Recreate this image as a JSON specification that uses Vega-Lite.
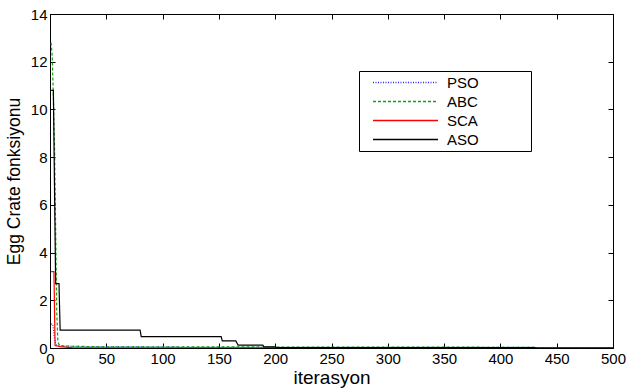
{
  "$schema": "https://vega.github.io/schema/vega-lite/v6.json",
  "width": 563,
  "height": 334,
  "autosize": {"type": "none"},
  "padding": {"left": 50, "top": 14, "right": 14, "bottom": 42},
  "background": "white",
  "config": {
    "font": "Liberation Sans",
    "view": {"stroke": "black", "strokeWidth": 1},
    "axis": {
      "grid": false,
      "domainColor": "black",
      "tickColor": "black",
      "labelColor": "black",
      "titleColor": "black",
      "labelFont": "Liberation Sans",
      "titleFont": "Liberation Sans",
      "labelFontSize": 15,
      "titleFontSize": 19,
      "titleFontWeight": "normal",
      "tickSize": -5,
      "labelFlush": false,
      "labelOverlap": false
    }
  },
  "data": {
    "values": [
      {"it": 1, "v": 1.0, "alg": "PSO"},
      {"it": 2.5, "v": 1.0, "alg": "PSO"},
      {"it": 4, "v": 0.4, "alg": "PSO"},
      {"it": 5, "v": 0.2, "alg": "PSO"},
      {"it": 6, "v": 0.1, "alg": "PSO"},
      {"it": 10, "v": 0.08, "alg": "PSO"},
      {"it": 30, "v": 0.06, "alg": "PSO"},
      {"it": 112, "v": 0.05, "alg": "PSO"},
      {"it": 115, "v": 0.03, "alg": "PSO"},
      {"it": 430, "v": 0.03, "alg": "PSO"},
      {"it": 432, "v": 0.0, "alg": "PSO"},
      {"it": 500, "v": 0.0, "alg": "PSO"},
      {"it": 1, "v": 12.8, "alg": "ABC"},
      {"it": 2, "v": 12.2, "alg": "ABC"},
      {"it": 3, "v": 10.5, "alg": "ABC"},
      {"it": 4, "v": 8.5, "alg": "ABC"},
      {"it": 5, "v": 5.0, "alg": "ABC"},
      {"it": 6, "v": 1.5, "alg": "ABC"},
      {"it": 7, "v": 0.25, "alg": "ABC"},
      {"it": 8, "v": 0.15, "alg": "ABC"},
      {"it": 12, "v": 0.08, "alg": "ABC"},
      {"it": 50, "v": 0.05, "alg": "ABC"},
      {"it": 430, "v": 0.03, "alg": "ABC"},
      {"it": 432, "v": 0.0, "alg": "ABC"},
      {"it": 500, "v": 0.0, "alg": "ABC"},
      {"it": 1, "v": 3.2, "alg": "SCA"},
      {"it": 3.5, "v": 3.2, "alg": "SCA"},
      {"it": 4.5, "v": 0.1, "alg": "SCA"},
      {"it": 10, "v": 0.05, "alg": "SCA"},
      {"it": 20, "v": 0.01, "alg": "SCA"},
      {"it": 500, "v": 0.005, "alg": "SCA"},
      {"it": 1, "v": 10.8, "alg": "ASO"},
      {"it": 3, "v": 10.8, "alg": "ASO"},
      {"it": 5, "v": 2.7, "alg": "ASO"},
      {"it": 8, "v": 2.7, "alg": "ASO"},
      {"it": 9, "v": 0.75, "alg": "ASO"},
      {"it": 80, "v": 0.75, "alg": "ASO"},
      {"it": 81, "v": 0.48, "alg": "ASO"},
      {"it": 152, "v": 0.48, "alg": "ASO"},
      {"it": 153, "v": 0.3, "alg": "ASO"},
      {"it": 165, "v": 0.3, "alg": "ASO"},
      {"it": 167, "v": 0.12, "alg": "ASO"},
      {"it": 189, "v": 0.12, "alg": "ASO"},
      {"it": 190, "v": 0.05, "alg": "ASO"},
      {"it": 200, "v": 0.05, "alg": "ASO"},
      {"it": 201, "v": 0.02, "alg": "ASO"},
      {"it": 430, "v": 0.02, "alg": "ASO"},
      {"it": 432, "v": 0.0, "alg": "ASO"},
      {"it": 500, "v": 0.0, "alg": "ASO"}
    ]
  },
  "layer": [
    {
      "mark": {"type": "line", "strokeWidth": 1.2, "clip": true},
      "encoding": {
        "x": {
          "field": "it", "type": "quantitative",
          "scale": {"domain": [0, 500], "nice": false},
          "axis": {"values": [0, 50, 100, 150, 200, 250, 300, 350, 400, 450, 500], "title": "iterasyon", "labelPadding": 8, "titlePadding": 2}
        },
        "y": {
          "field": "v", "type": "quantitative",
          "scale": {"domain": [0, 14], "nice": false},
          "axis": {"values": [0, 2, 4, 6, 8, 10, 12, 14], "title": "Egg Crate fonksiyonu", "titleFontSize": 17.5, "labelPadding": 8, "titlePadding": 7}
        },
        "color": {
          "field": "alg", "type": "nominal",
          "scale": {"domain": ["PSO", "ABC", "SCA", "ASO"], "range": ["#2b2bff", "#12a012", "#ff0000", "#000000"]},
          "legend": {
            "title": null, "orient": "none", "legendX": 309, "legendY": 57,
            "strokeColor": "black", "fillColor": "white", "padding": 2,
            "symbolType": "stroke", "symbolSize": 4225, "symbolStrokeWidth": 1.5,
            "clipHeight": 19, "rowPadding": 0, "symbolOffset": 11, "labelOffset": 8,
            "labelFontSize": 15, "labelFont": "Liberation Sans", "labelColor": "black",
            "labelExpr": "datum.label + '\u00a0\u00a0\u00a0\u00a0\u00a0\u00a0\u00a0\u00a0\u00a0\u00a0\u00a0\u00a0\u200b'"
          }
        },
        "strokeDash": {
          "field": "alg", "type": "nominal",
          "scale": {"domain": ["PSO", "ABC", "SCA", "ASO"], "range": [[1, 1.5], [3, 2], [1, 0], [1, 0]]},
          "legend": {
            "title": null, "orient": "none", "legendX": 309, "legendY": 57,
            "strokeColor": "black", "fillColor": "white", "padding": 2,
            "symbolType": "stroke", "symbolSize": 4225, "symbolStrokeWidth": 1.5,
            "clipHeight": 19, "rowPadding": 0, "symbolOffset": 11, "labelOffset": 8,
            "labelFontSize": 15, "labelFont": "Liberation Sans", "labelColor": "black",
            "labelExpr": "datum.label + '\u00a0\u00a0\u00a0\u00a0\u00a0\u00a0\u00a0\u00a0\u00a0\u00a0\u00a0\u00a0\u200b'"
          }
        }
      }
    },
    {
      "mark": {"type": "line", "opacity": 0},
      "encoding": {
        "x": {
          "field": "it", "type": "quantitative",
          "axis": {"orient": "top", "values": [0, 50, 100, 150, 200, 250, 300, 350, 400, 450, 500], "labels": false, "title": null, "domain": false}
        },
        "y": {
          "field": "v", "type": "quantitative",
          "axis": {"orient": "right", "values": [0, 2, 4, 6, 8, 10, 12, 14], "labels": false, "title": null, "domain": false}
        }
      }
    }
  ],
  "resolve": {"axis": {"x": "independent", "y": "independent"}}
}
